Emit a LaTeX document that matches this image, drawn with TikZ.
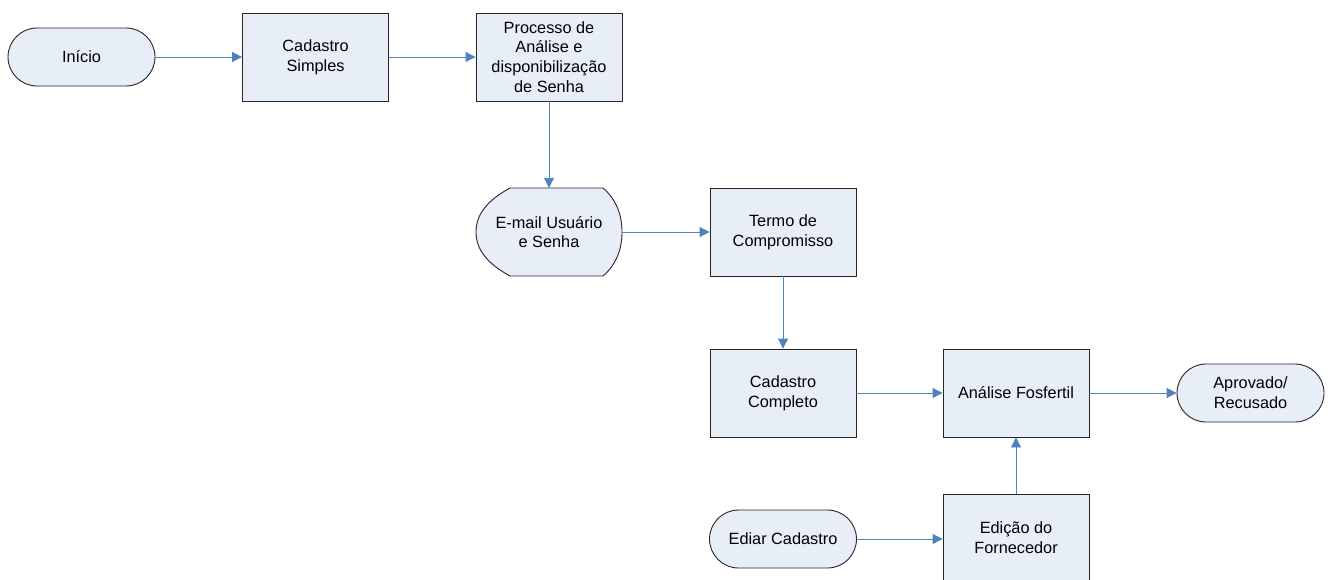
\documentclass[tikz,border=0pt]{standalone}
\usepackage{fontspec}
\setmainfont{Liberation Sans}
\usetikzlibrary{arrows.meta}
\definecolor{boxfill}{HTML}{E8EEF7}
\definecolor{linkblue}{HTML}{4F81BD}
\tikzset{
  x=1pt, y=-1pt,
  txt/.style={align=center, font=\fontsize{16.3}{19.8}\selectfont, inner sep=0pt},
  base/.style={txt, draw=black!85, line width=0.9pt, fill=boxfill},
  procbox/.style={base, minimum width=146pt, minimum height=88pt},
  term/.style={base, minimum width=147pt, minimum height=58pt, rounded corners=29pt},
  link/.style={draw=linkblue, line width=0.9pt, -{Triangle[length=10pt, width=10pt]}},
}
\begin{document}
\begin{tikzpicture}
\useasboundingbox (0,0) rectangle (1329,579);
\clip (0,0) rectangle (1329,579);
\node[term] (inicio) at (81.5,57) {Início};
\node[procbox] (cadsimples) at (315.5,57) {Cadastro\\Simples};
\node[procbox] (processo) at (549,57) {Processo de\\Análise e\\disponibilização\\de Senha};
% display shape
\draw[draw=black!85, line width=0.9pt, fill=boxfill]
  (510,188) -- (603,188) .. controls (617,200) and (622,216) .. (622,232)
  .. controls (622,248) and (617,264) .. (603,276) -- (510,276)
  .. controls (488,264) and (476,250) .. (476,232)
  .. controls (476,214) and (488,200) .. (510,188) -- cycle;
\node[txt, minimum width=146pt, minimum height=88pt] (email) at (549,232) {E-mail Usuário\\e Senha};
\node[procbox] (termo) at (783,232) {Termo de\\Compromisso};
\node[procbox] (cadcompleto) at (783,393) {Cadastro\\Completo};
\node[procbox] (analise) at (1016,393) {Análise Fosfertil};
\node[term] (aprovado) at (1250.5,393) {Aprovado/\\Recusado};
\node[term] (ediar) at (783,539) {Ediar Cadastro};
\node[procbox] (edicao) at (1016,538) {Edição do\\Fornecedor};
\draw[link] (inicio) -- (cadsimples);
\draw[link] (cadsimples) -- (processo);
\draw[link] (processo) -- (email);
\draw[link] (email) -- (termo);
\draw[link] (termo) -- (cadcompleto);
\draw[link] (cadcompleto) -- (analise);
\draw[link] (analise) -- (aprovado);
\draw[link] (ediar.east) -- (ediar.east -| edicao.west);
\draw[link] (edicao) -- (analise);
\end{tikzpicture}
\end{document}
